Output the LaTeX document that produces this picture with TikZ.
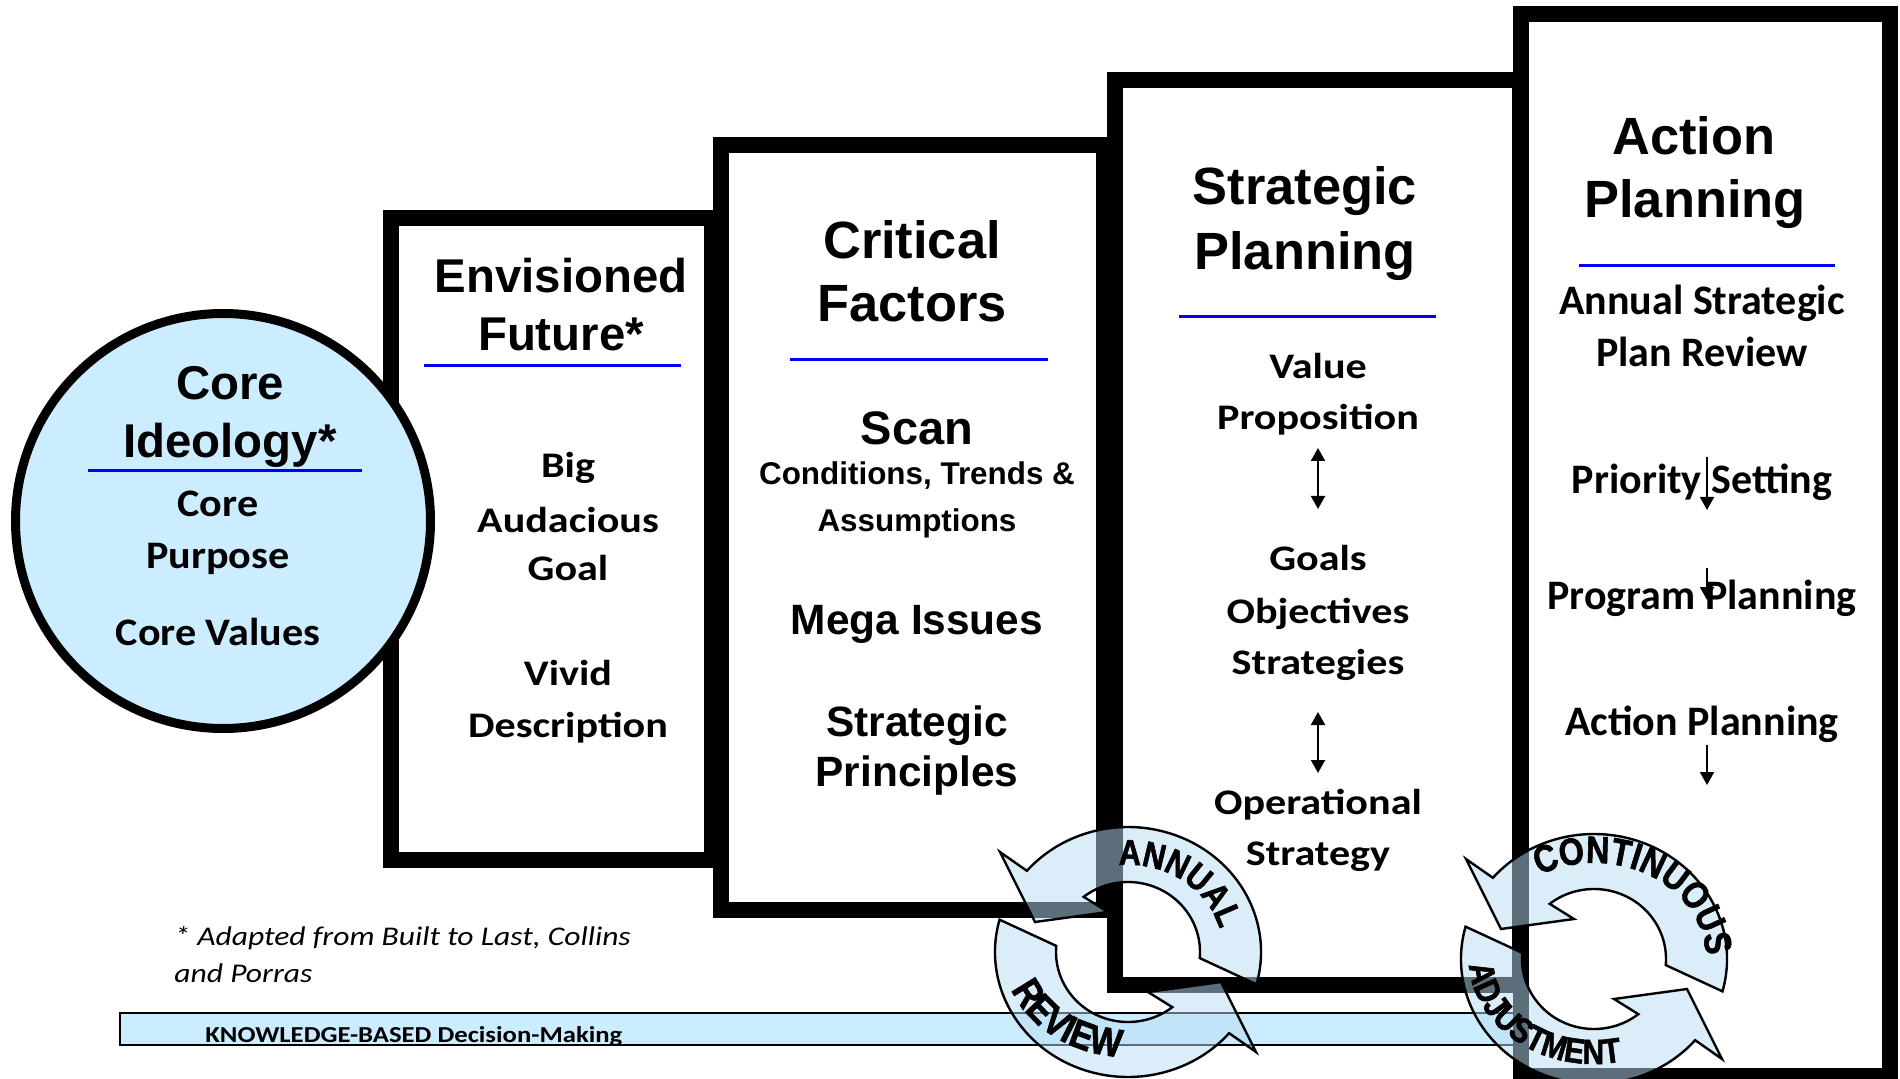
\documentclass[tikz,border=0pt]{standalone}
\usepackage{fontspec}
\usetikzlibrary{arrows.meta,decorations.text}

\newfontfamily\arialfont{Liberation Sans}
\newfontfamily\arialnarrow[FakeStretch=0.85, FakeBold=1.5]{Liberation Sans}
\newfontfamily\calfont{Carlito}
\newfontfamily\calmid[FakeStretch=1.08]{Carlito}
\newfontfamily\calwide[FakeStretch=1.17]{Carlito}
\newcommand\cyclefont[1]{\arialnarrow\bfseries\fontsize{#1}{#1}\selectfont}

\definecolor{paleblue}{HTML}{CCECFF}
\definecolor{ringblue}{HTML}{B8DDF5}

\begin{document}
\begin{tikzpicture}[x=0.5pt, y=-0.5pt,
    panel/.style={
% The frames:
      draw=black, line width=8pt, fill=white
    },
    coreball/.style={
% The circle:
      circle, minimum size=207.5pt, inner sep=0pt,
      draw=black, line width=4.5pt, fill=paleblue
    },
    headrule/.style={draw=blue, line width=1.5pt},
    kbar/.style={draw=black, line width=1.2pt, fill=paleblue},
    % Text:
    headtxt/.style={anchor=base, inner sep=0pt,
      font=\arialfont\bfseries\fontsize{23.7pt}{28pt}\selectfont},
    bigheadtxt/.style={anchor=base, inner sep=0pt,
      font=\arialfont\bfseries\fontsize{26.2pt}{31pt}\selectfont},
    coretxt/.style={anchor=base, inner sep=0pt,
      font=\calmid\bfseries\fontsize{19.5pt}{23pt}\selectfont},
    bodytxt/.style={anchor=base, inner sep=0pt,
      font=\calwide\bfseries\fontsize{18pt}{22pt}\selectfont},
    acttxt/.style={anchor=base, inner sep=0pt,
      font=\calfont\bfseries\fontsize{21pt}{25pt}\selectfont},
    scantxt/.style={anchor=base, inner sep=0pt,
      font=\arialfont\bfseries\fontsize{23.5pt}{28pt}\selectfont},
    smalltxt/.style={anchor=base, inner sep=0pt,
      font=\arialfont\bfseries\fontsize{15.7pt}{19pt}\selectfont},
    factxt/.style={anchor=base, inner sep=0pt,
      font=\arialfont\bfseries\fontsize{21.2pt}{25pt}\selectfont},
    notetxt/.style={anchor=base west, inner sep=0pt,
      font=\calwide\itshape\fontsize{13.5pt}{16pt}\selectfont},
    bartxt/.style={anchor=base west, inner sep=0pt,
      font=\calwide\bfseries\fontsize{11.4pt}{14pt}\selectfont},
    % Arrows:
    twoway/.style={{Triangle[width=7pt,length=6.5pt]}-{Triangle[width=7pt,length=6.5pt]}, line width=1pt},
    oneway/.style={-{Triangle[width=7pt,length=6.5pt]}, line width=1pt},
    ringarrow/.style={fill=ringblue, fill opacity=0.5, draw=black, line width=1.2pt},
    ringtext/.style={decorate, decoration={text along path, text align=center, text={#1}}},
    halfring/.pic={
      \path[ringarrow] (15:133 and 125)
        arc[start angle=15, end angle=-139.5, x radius=133, y radius=125]
        -- (-128,-100) -- (-93,-30) -- (-20,-40) -- (-128:72 and 70)
        arc[start angle=-128, end angle=5, x radius=72, y radius=70] -- cycle;
    }
  ]
  \useasboundingbox (0,0) rectangle (1900,1079);
  \fill[white] (0,0) rectangle (1900,1079);

  % frames, back to front
  \draw[panel] (391,218) rectangle (712,860);
  \draw[panel] (721,145) rectangle (1104,910);
  \draw[panel] (1115,80) rectangle (1520,985);
  \draw[kbar] (120,1013) rectangle (1515,1045);
  \node[bartxt] (kbase) at (205,1042) {KNOWLEDGE-BASED Decision-Making};
  \draw[panel] (1521,14) rectangle (1890,1076);

  \node[coreball] (core) at (223,521) {};

  % headings and rules
  \foreach \txt/\xx/\yy [count=\i] in {Core/230/400, Ideology*/230/458,
      Envisioned/561/293, Future*/561/351}
    \node[headtxt] (head\i) at (\xx,\yy) {\txt};
  \foreach \txt/\xx/\yy [count=\i] in {Critical/912/259, Factors/912/322,
      Strategic/1305/205, Planning/1305/270, Action/1694/155, Planning/1695/218}
    \node[bigheadtxt] (bighead\i) at (\xx,\yy) {\txt};
  \foreach \xa/\xb/\yy in {88/362/471, 424/681/366, 790/1048/360,
      1179/1436/317, 1579/1835/266}
    \draw[headrule] (\xa,\yy) -- (\xb,\yy);

  % Core Ideology
  \foreach \txt/\yy [count=\i] in {Core/517, Purpose/568, Core Values/645}
    \node[coretxt] (ideo\i) at (218,\yy) {\txt};

  % Envisioned Future
  \foreach \txt/\yy [count=\i] in {Big/478, Audacious/532, Goal/581,
      Vivid/685, Description/737}
    \node[bodytxt] (fut\i) at (568,\yy) {\txt};

  % Critical Factors
  \node[scantxt] (scan) at (917,445) {Scan};
  \node[smalltxt] (cond1) at (917,485) {Conditions, Trends \&};
  \node[smalltxt] (cond2) at (917,531) {Assumptions};
  \foreach \txt/\yy [count=\i] in {Mega Issues/634, Strategic/736, Principles/786}
    \node[factxt] (fac\i) at (917,\yy) {\txt};

  % Strategic Planning
  \foreach \txt/\yy [count=\i] in {Value/379, Proposition/430, Goals/571,
      Objectives/623, Strategies/674, Operational/814, Strategy/865}
    \node[bodytxt] (plan\i) at (1318,\yy) {\txt};
  \coordinate (vpA) at (1318,448);
  \coordinate (vpB) at (1318,509);
  \coordinate (osA) at (1318,712);
  \coordinate (osB) at (1318,773);
  \draw[twoway] (vpA) -- (vpB);
  \draw[twoway] (osA) -- (osB);

  % Action Planning
  \foreach \txt/\yy [count=\i] in {Annual Strategic/315, Plan Review/367,
      Priority Setting/494, Program Planning/610, Action Planning/735}
    \node[acttxt] (act\i) at (1702,\yy) {\txt};
  \foreach \ya/\yb [count=\i] in {457/510, 568/600, 745/785} {
    \coordinate (dnA\i) at (1707,\ya);
    \coordinate (dnB\i) at (1707,\yb);
    \draw[oneway] (dnA\i) -- (dnB\i);
  }

  % footnote
  \node[notetxt] (note1) at (174,945) {* Adapted from Built to Last, Collins};
  \node[notetxt] (note2) at (174,982) {and Porras};

  % cycle arrows
  \coordinate (annual) at (1128,952);
  \coordinate (contin) at (1594,959);
  \pic at (annual) {halfring};
  \pic[rotate=180] at (annual) {halfring};
  \pic at (contin) {halfring};
  \pic[rotate=180] at (contin) {halfring};
  \path[ringtext={|\cyclefont{18pt}|ANNUAL}] (annual) ++(-105:95 and 87)
    arc[start angle=-105, end angle=-5, x radius=95, y radius=87];
  \path[ringtext={|\cyclefont{20pt}|REVIEW}] (annual) ++(180:125 and 105)
    arc[start angle=180, end angle=76, x radius=125, y radius=105];
  \path[ringtext={|\cyclefont{19pt}|CONTINUOUS}] (contin) ++(-130:112 and 96)
    arc[start angle=-130, end angle=10, x radius=112, y radius=96];
  \path[ringtext={|\cyclefont{17.5pt}|ADJUSTMENT}] (contin) ++(185:125 and 105)
    arc[start angle=185, end angle=70, x radius=125, y radius=105];
\end{tikzpicture}
\end{document}
